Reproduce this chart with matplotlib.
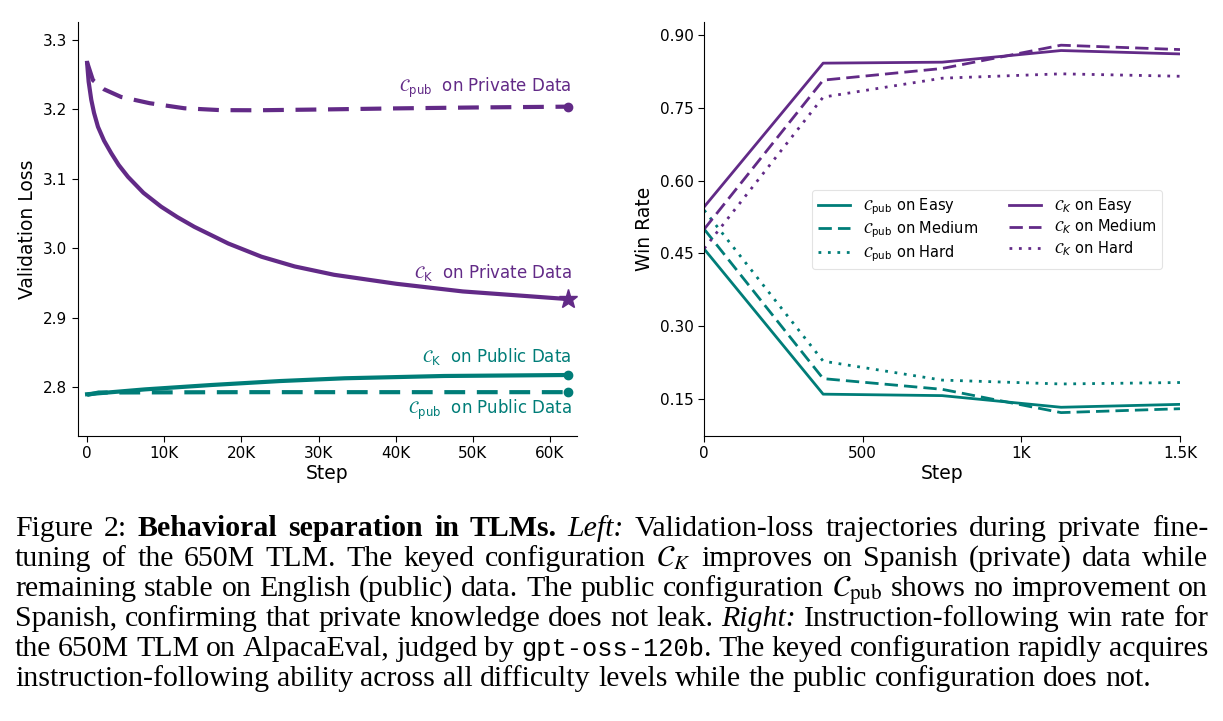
import re

import matplotlib
matplotlib.use("Agg")
import matplotlib.pyplot as plt
from matplotlib.ticker import FuncFormatter

# ---- left panel: validation loss during private fine-tuning ----
steps_ck_priv = [0, 200, 540, 900, 1410, 2200, 3130, 4100, 5300, 7300, 9600, 11700,
                 13900, 18300, 22600, 26900, 32000, 40100, 48700, 57400, 62300]
loss_ck_priv = [3.267, 3.240, 3.214, 3.195, 3.175, 3.155, 3.137, 3.120, 3.103, 3.080,
                3.060, 3.045, 3.031, 3.007, 2.988, 2.974, 2.962, 2.949, 2.938, 2.931, 2.927]

steps_pub_priv = [0, 760, 2200, 4400, 8100, 12600, 17300, 22100, 30800, 40000, 50000, 62300]
loss_pub_priv = [3.268, 3.242, 3.229, 3.218, 3.209, 3.2017, 3.199, 3.1988, 3.200, 3.2015,
                 3.2028, 3.204]

steps_ck_pub = [0, 7500, 16100, 25000, 33400, 46300, 62300]
loss_ck_pub = [2.790, 2.797, 2.8033, 2.809, 2.813, 2.8163, 2.8177]

steps_pub_pub = [0, 1500, 20000, 40000, 62300]
loss_pub_pub = [2.789, 2.7925, 2.793, 2.793, 2.793]

# ---- right panel: AlpacaEval win rate ----
wr_steps = [0, 375, 750, 1125, 1500]
pub_easy = [0.459, 0.160, 0.157, 0.133, 0.139]
pub_medium = [0.500, 0.192, 0.170, 0.122, 0.130]
pub_hard = [0.539, 0.228, 0.189, 0.181, 0.184]
ck_easy = [0.546, 0.842, 0.844, 0.868, 0.861]
ck_medium = [0.500, 0.807, 0.831, 0.879, 0.870]
ck_hard = [0.460, 0.772, 0.811, 0.820, 0.815]

caption_lines = [
    r"Figure 2: **Behavioral separation in TLMs.** *Left:* Validation-loss trajectories during private fine-",
    r"tuning of the 650M TLM. The keyed configuration $\mathcal{C}_K$ improves on Spanish (private) data while",
    r"remaining stable on English (public) data. The public configuration $\mathcal{C}_{\mathrm{pub}}$ shows no improvement on",
    r"Spanish, confirming that private knowledge does not leak. *Right:* Instruction-following win rate for",
    r"the 650M TLM on AlpacaEval, judged by `gpt-oss-120b`. The keyed configuration rapidly acquires",
    r"instruction-following ability across all difficulty levels while the public configuration does not.",
]

PURPLE = "#622a87"
TEAL = "#007d78"

fig = plt.figure(figsize=(12.23, 7.21), dpi=100, facecolor="white")
H = 721

def axes_px(x0, x1, y0, y1):
    return fig.add_axes([x0 / 1223, 1 - y1 / H, (x1 - x0) / 1223, (y1 - y0) / H])

def k_fmt(v, _):
    if v == 0:
        return "0"
    if abs(v) >= 1000:
        return f"{v / 1000:g}K"
    return f"{v:g}"

# left
ax = axes_px(77.6, 577, 21.7, 436)
lw = 3
ax.plot(steps_ck_priv, loss_ck_priv, color=PURPLE, lw=lw, marker="*", markersize=14,
        markevery=[-1])
ax.plot(steps_pub_priv, loss_pub_priv, color=PURPLE, lw=lw, ls=(0, (5, 2.8)), marker="o",
        markersize=6, markevery=[-1])
ax.plot(steps_ck_pub, loss_ck_pub, color=TEAL, lw=lw, marker="o", markersize=6, markevery=[-1])
ax.plot(steps_pub_pub, loss_pub_pub, color=TEAL, lw=lw, ls=(0, (5, 2.8)), marker="o",
        markersize=6, markevery=[-1])
ax.set_xlim(-1230, 63500)
ax.set_ylim(2.7299, 3.3263)
ax.set_xticks([0, 10000, 20000, 30000, 40000, 50000, 60000])
ax.xaxis.set_major_formatter(FuncFormatter(k_fmt))
ax.set_yticks([2.8, 2.9, 3.0, 3.1, 3.2, 3.3])
ax.set_xlabel("Step", fontsize=13.5, labelpad=2)
ax.set_ylabel("Validation Loss", fontsize=13.5)

ann = dict(ha="right", va="center", fontsize=12)
ax.text(62800, 3.231, r"$\mathcal{C}_{\mathrm{pub}}$  on Private Data", color=PURPLE, **ann)
ax.text(62800, 2.965, r"$\mathcal{C}_{\mathrm{K}}$  on Private Data", color=PURPLE, **ann)
ax.text(62800, 2.844, r"$\mathcal{C}_{\mathrm{K}}$  on Public Data", color=TEAL, **ann)
ax.text(62800, 2.767, r"$\mathcal{C}_{\mathrm{pub}}$  on Public Data", color=TEAL, **ann)

# right
ax2 = axes_px(704.2, 1180, 21.7, 436)
lw2 = 2
dash = (0, (4.8, 2.2))
dot = (0, (1, 2.4))
ax2.plot(wr_steps, pub_easy, color=TEAL, lw=lw2, label=r"$\mathcal{C}_{\mathrm{pub}}$ on Easy")
ax2.plot(wr_steps, pub_medium, color=TEAL, lw=lw2, ls=dash, label=r"$\mathcal{C}_{\mathrm{pub}}$ on Medium")
ax2.plot(wr_steps, pub_hard, color=TEAL, lw=lw2, ls=dot, label=r"$\mathcal{C}_{\mathrm{pub}}$ on Hard")
ax2.plot(wr_steps, ck_easy, color=PURPLE, lw=lw2, label=r"$\mathcal{C}_K$ on Easy")
ax2.plot(wr_steps, ck_medium, color=PURPLE, lw=lw2, ls=dash, label=r"$\mathcal{C}_K$ on Medium")
ax2.plot(wr_steps, ck_hard, color=PURPLE, lw=lw2, ls=dot, label=r"$\mathcal{C}_K$ on Hard")
ax2.set_xlim(0, 1500)
ax2.set_ylim(0.0738, 0.9274)
ax2.set_xticks([0, 500, 1000, 1500])
ax2.xaxis.set_major_formatter(FuncFormatter(k_fmt))
ax2.set_yticks([0.15, 0.30, 0.45, 0.60, 0.75, 0.90])
ax2.yaxis.set_major_formatter(FuncFormatter(lambda v, _: f"{v:.2f}"))
ax2.set_xlabel("Step", fontsize=13.5, labelpad=2)
ax2.set_ylabel("Win Rate", fontsize=13.5)
leg = ax2.legend(ncol=2, fontsize=10.5, loc="upper left",
                 bbox_to_anchor=((811.7 - 704.2) / 475.8, (436 - 190) / 414.3),
                 borderaxespad=0, frameon=True, borderpad=0.4, labelspacing=0.2,
                 columnspacing=2.1, handlelength=2.2, handletextpad=0.9)
leg.get_frame().set_edgecolor("#dddddd")
leg.get_frame().set_linewidth(0.8)

for a in (ax, ax2):
    a.spines["top"].set_visible(False)
    a.spines["right"].set_visible(False)
    a.tick_params(labelsize=11, length=4)

# ---- caption, justified like the paper text ----
SERIF = "Liberation Serif"
CAP_SIZE = 21.5
styles = {
    "rm": dict(family=SERIF, fontsize=CAP_SIZE),
    "bf": dict(family=SERIF, weight="bold", fontsize=CAP_SIZE),
    "it": dict(family=SERIF, style="italic", fontsize=CAP_SIZE),
    "tt": dict(family="Liberation Mono", fontsize=CAP_SIZE * 0.85),
    "math": dict(family=SERIF, math_fontfamily="stix", fontsize=CAP_SIZE),
}

def parse(line):
    segs = []
    for m in re.finditer(r"\*\*(.+?)\*\*|\*(.+?)\*|`(.+?)`|(\$.+?\$)|([^*`$]+)", line):
        bf, it, tt, mth, rm = m.groups()
        if bf is not None:
            segs.append((bf, "bf"))
        elif it is not None:
            segs.append((it, "it"))
        elif tt is not None:
            segs.append((tt, "tt"))
        elif mth is not None:
            segs.append((mth, "math"))
        else:
            segs.append((rm, "rm"))
    words = [[]]
    for text, st in segs:
        parts = text.split(" ")
        for i, p in enumerate(parts):
            if i > 0:
                words.append([])
            if p:
                words[-1].append((p, st))
    return [w for w in words if w]

renderer = fig.canvas.get_renderer()

def piece_width(text, st):
    t = fig.text(0, 0, text, **styles[st])
    w = t.get_window_extent(renderer).width
    t.remove()
    return w

space_w = piece_width("a b", "rm") - piece_width("ab", "rm")
left_px, right_px = 15, 1208
baselines = [536, 566, 596, 626, 656, 686]
for li, line in enumerate(caption_lines):
    words = parse(line)
    widths = [[piece_width(p, st) for p, st in w] for w in words]
    total = sum(sum(ws) for ws in widths)
    if li < len(caption_lines) - 1:
        gap = (right_px - left_px - total) / (len(words) - 1)
    else:
        gap = space_w
    x = left_px
    for w, ws in zip(words, widths):
        for (p, st), pw in zip(w, ws):
            fig.text(x / 1223, 1 - baselines[li] / H, p, va="baseline", ha="left",
                     **styles[st])
            x += pw
        x += gap

fig.savefig("out.png", dpi=100, facecolor="white")
